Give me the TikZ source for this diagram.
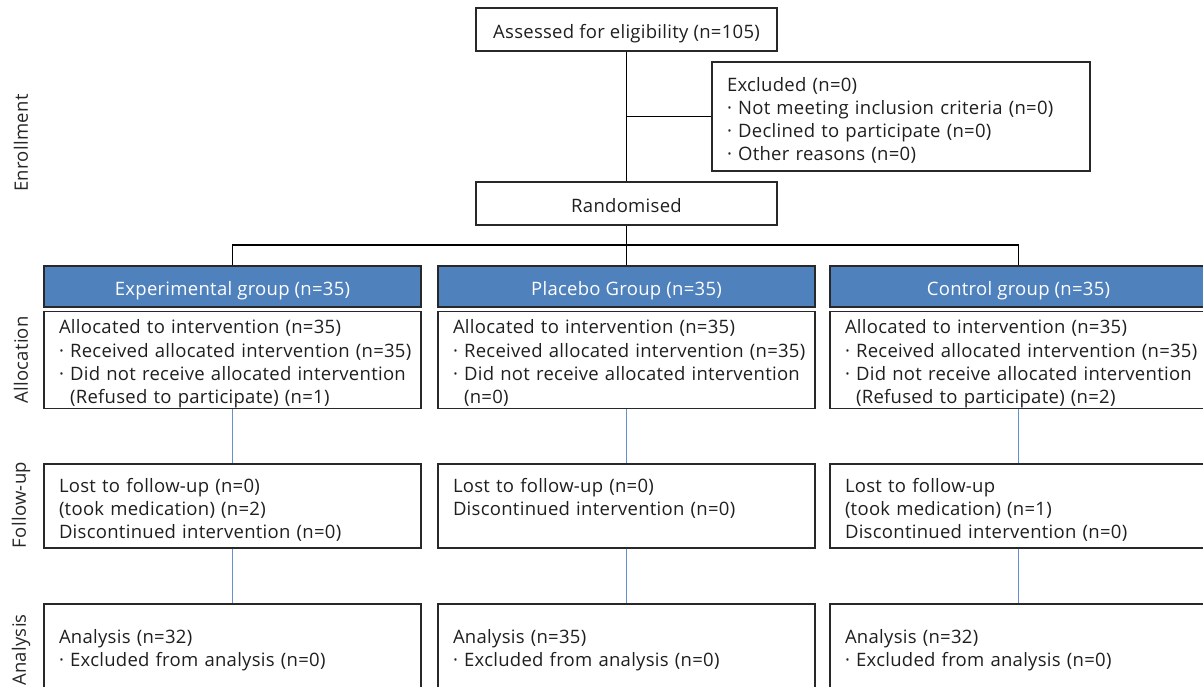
\documentclass[tikz,border=0pt]{standalone}
\usepackage{fontspec}
\setmainfont{Open Sans}[LetterSpace=1.5]
\definecolor{hdrblue}{RGB}{79,129,189}
\definecolor{linkblue}{RGB}{98,145,205}
\definecolor{edge}{RGB}{40,40,40}
\newcommand{\bl}{\textperiodcentered\ }
\newcommand{\ind}{\phantom{\textperiodcentered\ }}
\newcommand{\firstln}{\rule{0pt}{22pt}}
\begin{document}
\begin{tikzpicture}[x=1pt,y=-1pt,
  every node/.style={font=\fontsize{18.5}{23.3}\selectfont, inner sep=0pt, text=black!88},
  box/.style={draw=edge, line width=1.3pt, rectangle, fill=white},
  sbox/.style={box, minimum width=301pt, minimum height=43pt, text height=17pt, text depth=0pt},
  tbox/.style={box, minimum width=377pt, text width=347pt, align=left, execute at begin node=\firstln},
  hdr/.style={draw=edge, line width=1.3pt, rectangle, fill=hdrblue, text=white, minimum width=377pt, minimum height=41pt, text height=17pt, text depth=0pt},
  stage/.style={rotate=90, text=black!85},
  blk/.style={draw=black, line width=1.3pt},
  blu/.style={draw=linkblue, line width=1.1pt}]
\useasboundingbox (0,0) rectangle (1203,686);
\clip (0,0) rectangle (1203,686);

% stage labels
\node[stage] (lenr) at (21,143) {Enrollment};
\node[stage] (lall) at (21,360) {Allocation};
\node[stage] (lfol) at (21,505) {Follow-up};
\node[stage] (lana) at (21,650) {Analysis};

% enrollment
\node[sbox] (assess) at (626.5,29.5) {Assessed for eligibility (n=105)};
\node[tbox, minimum width=378pt, minimum height=109pt, text width=348pt] (excl) at (901,116.5)
  {Excluded (n=0)\\ \mbox{\bl Not meeting inclusion criteria (n=0)}\\ \bl Declined to participate (n=0)\\ \bl Other reasons (n=0)};
\node[sbox] (rand) at (626.5,203.5) {Randomised};

\coordinate (bj) at (626.5,116.5);
\coordinate (split) at (626.5,245);

% headers
\node[hdr] (hexp) at (232.5,286.5) {Experimental group (n=35)};
\node[hdr] (hpla) at (626.5,286.5) {Placebo Group (n=35)};
\node[hdr] (hcon) at (1018.5,286.5) {Control group (n=35)};

% allocation
\node[tbox, minimum height=96pt] (aexp) at (232.5,360) {Allocated to intervention (n=35)\\ \mbox{\bl Received allocated intervention (n=35)}\\ \mbox{\bl Did not receive allocated intervention}\\ \mbox{\ind(Refused to participate) (n=1)}};
\node[tbox, minimum height=96pt] (apla) at (626.5,360) {Allocated to intervention (n=35)\\ \mbox{\bl Received allocated intervention (n=35)}\\ \mbox{\bl Did not receive allocated intervention}\\ \mbox{\ind(n=0)\phantom{(Refused to participate)}}};
\node[tbox, minimum height=96pt] (acon) at (1018.5,360) {Allocated to intervention (n=35)\\ \mbox{\bl Received allocated intervention (n=35)}\\ \mbox{\bl Did not receive allocated intervention}\\ \mbox{\ind(Refused to participate) (n=2)}};

% follow-up
\node[tbox, minimum height=84pt] (fexp) at (232.5,506) {Lost to follow-up (n=0)\\ (took medication) (n=2)\\ Discontinued intervention (n=0)};
\node[tbox, minimum height=84pt] (fpla) at (626.5,506) {Lost to follow-up (n=0)\\ Discontinued intervention (n=0)\\ \phantom{Discontinued intervention (n=0)}};
\node[tbox, minimum height=84pt] (fcon) at (1018.5,506) {Lost to follow-up\\ (took medication) (n=1)\\ Discontinued intervention (n=0)};

% analysis
\node[tbox, minimum height=84pt] (nexp) at (232.5,646) {Analysis (n=32)\\ \bl Excluded from analysis (n=0)};
\node[tbox, minimum height=84pt] (npla) at (626.5,646) {Analysis (n=35)\\ \bl Excluded from analysis (n=0)};
\node[tbox, minimum height=84pt] (ncon) at (1018.5,646) {Analysis (n=32)\\ \bl Excluded from analysis (n=0)};

% connectors
\draw[blk] (assess) -- (rand);
\draw[blk] (bj) -- (excl.west);
\draw[blk] (rand) -- (split);
\draw[blk] (hexp.north) |- (split) -| (hcon.north);
\draw[blk] (split) -- (hpla.north);

\draw[blu] (aexp) -- (fexp);
\draw[blu] (apla) -- (fpla);
\draw[blu] (acon) -- (fcon);
\draw[blu] (fexp) -- (nexp);
\draw[blu] (fpla) -- (npla);
\draw[blu] (fcon) -- (ncon);
\end{tikzpicture}
\end{document}
